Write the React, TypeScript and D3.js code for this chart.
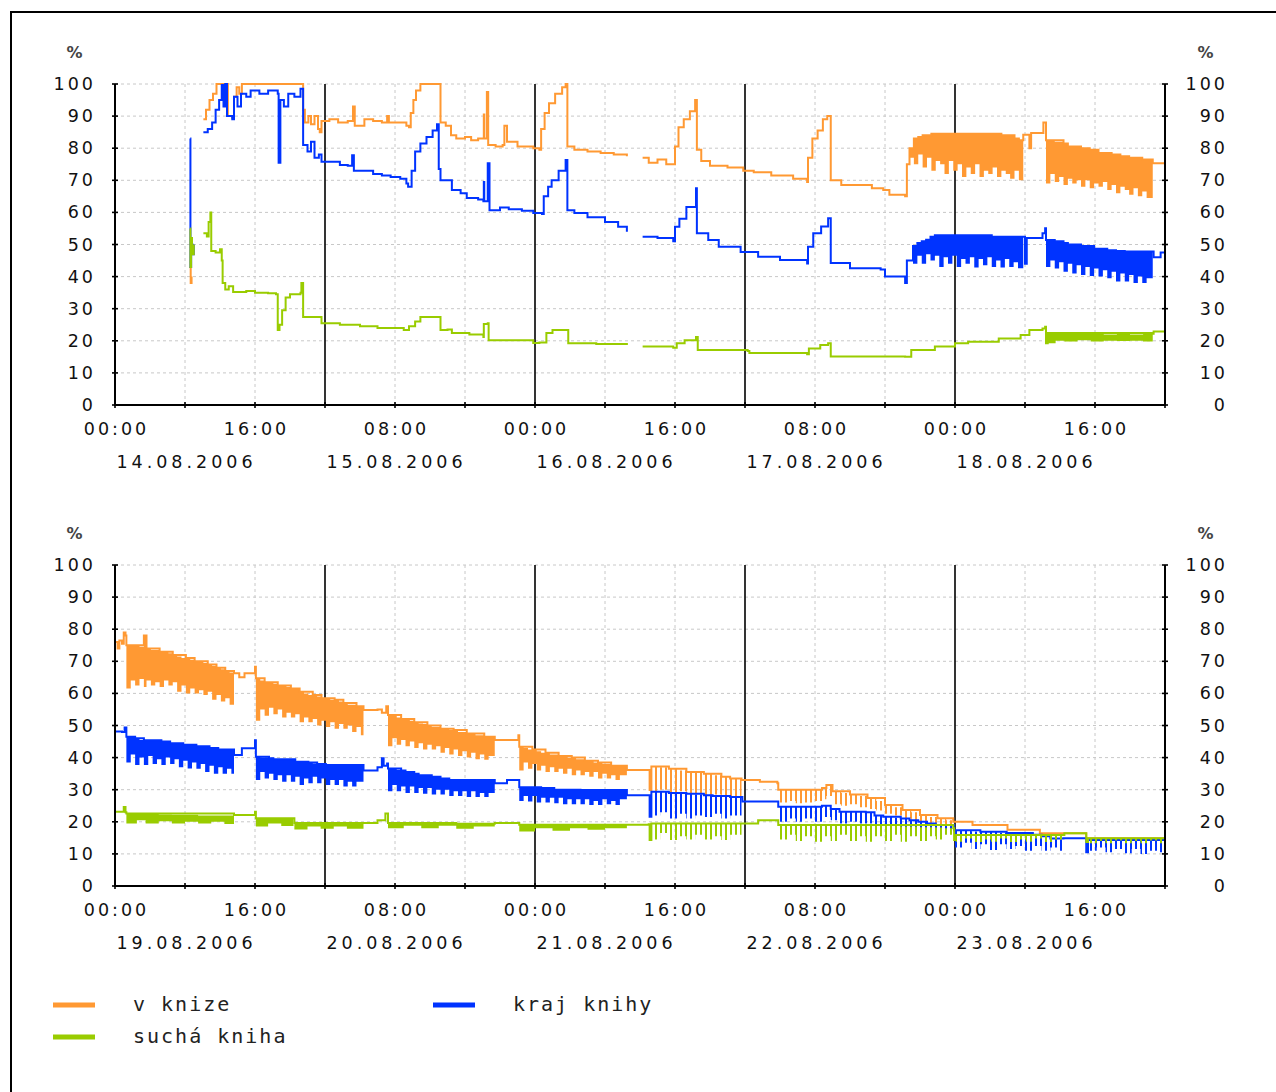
import React, { useEffect, useRef } from 'react';
import * as d3 from 'd3';

type Pt = [number, number | null];
type Band = [number, number, number];

// x values are hours from 00:00 of the first day of each panel (5 days = 120 h)
const dates1 = ['14.08.2006', '15.08.2006', '16.08.2006', '17.08.2006', '18.08.2006'];
const dates2 = ['19.08.2006', '20.08.2006', '21.08.2006', '22.08.2006', '23.08.2006'];
const timeLabels = ['00:00', '16:00', '08:00', '00:00', '16:00', '08:00', '00:00', '16:00'];
const yTicks = [0, 10, 20, 30, 40, 50, 60, 70, 80, 90, 100];
const seriesNames = ['v knize', 'kraj knihy', 'suchá kniha'];
const seriesColors = ['#ff9933', '#0033ff', '#99cc00'];

// ---- 14.08 - 18.08 ----
const top1Orange: Pt[] = [
  [8.6, 43], [8.65, 38], [8.75, 40], [8.8, null],
  [10.1, 89], [10.4, 92], [10.8, 95], [11.2, 97], [11.6, 100], [12.8, 100], [12.9, 90], [13.4, 89.5], [13.6, 96], [13.9, 99], [14.2, 97], [14.5, 100],
  [21.4, 100], [21.5, 92], [21.7, 88], [22.1, 90], [22.4, 87.5], [22.8, 90], [23.2, 86], [23.4, 85], [23.6, 88.5], [24.5, 89], [25.5, 88], [26.6, 88.5],
  [27.2, 93], [27.4, 87], [28.5, 89], [29.5, 88.5], [30.5, 88], [31.1, 90], [31.3, 88], [32.5, 88], [33.3, 87], [33.6, 86.5], [33.8, 91], [34.1, 95],
  [34.4, 98], [34.9, 100], [37.1, 100], [37.2, 88], [37.8, 87], [38.4, 84], [39, 83], [40, 83.5], [40.7, 82.5], [41.5, 83], [42.1, 83], [42.15, 90.5],
  [42.2, 83], [42.5, 97.5], [42.65, 81], [43.5, 80.5], [44.3, 81], [44.5, 87], [44.8, 82], [46, 80.5], [47.3, 80.5], [47.8, 80], [48.5, 79.5],
  [48.7, 86], [49.1, 91], [49.6, 94], [50.3, 97], [51.1, 99], [51.5, 100], [51.7, 80.5], [52.5, 79.5], [54, 79], [55.5, 78.5], [57, 78], [58.5, 77.5], [58.6, null],
  [60.3, 77], [61, 75.5], [62, 76.5], [63, 75], [63.8, 75], [64, 80.5], [64.4, 86.5], [65, 89], [65.7, 91.5], [66.3, 95], [66.5, 79.5], [67, 76],
  [68, 74.5], [70, 74], [71.8, 73], [73, 72.5], [75, 71.5], [77.5, 70.5], [79.1, 69.5], [79.2, 77], [79.7, 83], [80.3, 85.5], [80.9, 89], [81.4, 90],
  [81.8, 70], [83, 68.5], [85, 68.5], [86.5, 67.5], [87.8, 67], [88.5, 65.5], [90.3, 65], [90.5, 75], [90.8, 80], [91.3, 83], [91.8, 83.5], [92.3, 84],
  [93.3, 84.5], [101.3, 84], [102.8, 83], [103.3, 82.5], [103.8, 84.2], [104.5, 80], [104.7, 84.7], [106, 84.7], [106.1, 88], [106.4, 82.5],
  [108.4, 81.5], [108.9, 80.5], [110.4, 80], [111.4, 79.5], [112.4, 78.5], [113.9, 78], [114.9, 77.5], [115.9, 77], [117.4, 76.5], [118.6, 75.3], [120, 75.3],
];
const top1Blue: Pt[] = [
  [8.6, 83], [8.62, 43], [8.7, 50], [8.85, 47], [9, 50], [9.05, null],
  [10.1, 85], [10.6, 86], [11.1, 88], [11.5, 92], [11.9, 95], [12.2, 99.7], [12.4, 93], [12.6, 100], [12.8, 90], [13.4, 89], [13.6, 96], [14, 93],
  [14.4, 97], [15, 96], [15.5, 98], [16.5, 97], [17.5, 98], [18.6, 97], [18.7, 75.5], [18.9, 95], [19.3, 93], [19.8, 97], [20.5, 96], [21.2, 98.5],
  [21.5, 81], [22, 79], [22.4, 82], [22.8, 77], [23.3, 78], [23.6, 75.8], [25.7, 74.8], [26.6, 74.5], [27.1, 77.8], [27.3, 73], [28.5, 73], [29.5, 72],
  [30.5, 71.5], [31.5, 71], [32.6, 70.5], [33.3, 69], [33.5, 68], [33.9, 73], [34.3, 79], [34.9, 81.5], [35.6, 83.5], [36.3, 85.5], [36.8, 87.5],
  [37, 73.5], [37.2, 70], [38.2, 70], [38.5, 67], [39.5, 66], [40.2, 64.5], [41.5, 64], [42.1, 63.5], [42.15, 69.5], [42.2, 63.5], [42.6, 75.3],
  [42.8, 60.7], [44, 61.5], [45, 61], [46.5, 60.5], [47.8, 59.8], [48.8, 59.5], [49, 65], [49.5, 68], [49.9, 70], [50.7, 73], [51.5, 76.3], [51.7, 60.7],
  [52.5, 59.8], [54, 58.5], [56, 57], [57.5, 55.5], [58.5, 54], [58.6, null],
  [60.3, 52.4], [62, 52], [63.8, 51], [64, 55.5], [64.5, 58], [65.3, 61.7], [66.4, 67.5], [66.5, 53.5], [67.8, 51.4], [69, 49.3], [71.5, 47.7],
  [73.5, 46.2], [76, 45.2], [79.1, 44.1], [79.2, 49.3], [79.8, 53.5], [80.7, 55.6], [81.5, 58.2], [81.8, 44.2], [84, 42.6], [87.5, 42.2], [88, 40],
  [90.3, 38], [90.5, 45], [91.2, 49.5], [91.7, 50.5], [92.2, 51], [92.7, 51.5], [93.2, 52.4], [93.7, 52.9], [100.2, 52.4], [103.8, 52.4], [104, 44],
  [104.2, 52], [106, 53.5], [106.3, 55.1], [106.4, 51.4], [107.4, 51], [108.4, 50.5], [108.9, 50], [110.4, 49.5], [111.9, 48.7], [113.4, 48.2],
  [114.4, 48], [115.4, 47.8], [118.6, 47.8], [118.7, 46], [119.5, 47.5], [120, 49.3],
];
const top1Green: Pt[] = [
  [8.6, 55], [8.62, 43], [8.7, 52], [8.8, 47], [9, 50], [9.05, null],
  [10.1, 53.5], [10.5, 52.5], [10.7, 57], [10.9, 60], [11, 48], [11.5, 47.5], [12, 48.5], [12.2, 45], [12.3, 38], [12.6, 36], [13, 37], [13.5, 35.2],
  [15, 35.5], [16, 35], [17.5, 34.8], [18.4, 34.5], [18.6, 23.4], [18.8, 25], [19.1, 29.5], [19.5, 33.5], [20, 34.5], [21.2, 35], [21.3, 38],
  [21.5, 27.4], [23.6, 25.5], [25.7, 25], [28, 24.5], [30, 24], [33, 23.4], [33.6, 24.5], [34.3, 26], [34.9, 27.4], [37.1, 27.4], [37.2, 23.4],
  [38, 23.5], [38.5, 22.4], [40.5, 22], [42.1, 21.2], [42.15, 25.2], [42.6, 25.5], [42.7, 20.2], [45, 20.2], [47.8, 19.3], [48.5, 19.5], [49.3, 22.4],
  [50, 23.4], [51.7, 23.4], [51.8, 19.2], [55, 19], [58.5, 18.7], [58.6, null],
  [60.3, 18.2], [63.8, 17.8], [64.2, 19.2], [65.1, 20.2], [66.4, 21.2], [66.6, 17.1], [72.3, 16.8], [72.5, 16.2], [79.1, 15.8], [79.3, 17.6],
  [80.6, 18.7], [81.5, 19.2], [81.8, 15.1], [90.3, 15], [91, 17.1], [93.7, 18.2], [96, 19.2], [97.5, 19.7], [101, 20.7], [103.5, 21.8], [104.5, 23.4],
  [106, 23.8], [106.3, 24.4], [106.4, 19.2], [106.6, 22.4], [118.6, 22.2], [118.7, 22.9], [120, 22.9],
];
const top1OrangeBands: Band[][] = [
  [[90.8, 80, 77], [91.3, 83, 75], [91.8, 83.5, 78], [92.3, 84, 74], [92.8, 84, 77], [93.3, 84.5, 73], [93.8, 84.5, 76], [94.3, 84.5, 75],
    [94.8, 84.5, 72], [95.3, 84.5, 76], [95.8, 84.5, 73], [96.3, 84.5, 75], [96.8, 84.5, 71], [97.3, 84.5, 74], [97.8, 84.5, 72], [98.3, 84.5, 75],
    [98.8, 84.5, 71], [99.3, 84.5, 73], [99.8, 84.5, 72], [100.3, 84.5, 74], [100.8, 84.5, 71], [101.3, 84, 73], [101.8, 84, 72], [102.3, 84, 70.5],
    [102.8, 83, 73], [103.3, 82.5, 70], [103.8, 82.5, 82.5]],
  [[106.4, 82.5, 69], [106.9, 82.5, 72], [107.4, 82, 69.5], [107.9, 82, 71], [108.4, 81.5, 68.5], [108.9, 80.5, 70.5], [109.4, 80.5, 69],
    [109.9, 80.5, 70], [110.4, 80, 68], [110.9, 80, 70], [111.4, 79.5, 67.5], [111.9, 79.5, 69], [112.4, 78.5, 68], [112.9, 78.5, 69.5],
    [113.4, 78.5, 67], [113.9, 78, 68.5], [114.4, 78, 66], [114.9, 77.5, 68], [115.4, 77.5, 67], [115.9, 77, 65.5], [116.4, 77, 67.5],
    [116.9, 77, 65], [117.4, 76.5, 66.5], [117.9, 76.5, 64.5], [118.6, 76.5, 76.5]],
];
const top1BlueBands: Band[][] = [
  [[91.2, 49.5, 44], [91.7, 50.5, 46.5], [92.2, 51, 44], [92.7, 51.5, 47], [93.2, 52.4, 45], [93.7, 52.9, 46.5], [94.2, 52.9, 43], [94.7, 52.9, 46],
    [95.2, 52.9, 44], [95.7, 52.9, 46.5], [96.2, 52.9, 43], [96.7, 52.9, 45.5], [97.2, 52.9, 44], [97.7, 52.9, 46], [98.2, 52.9, 42.8],
    [98.7, 52.9, 45.5], [99.2, 52.9, 43.5], [99.7, 52.9, 46], [100.2, 52.4, 43], [100.7, 52.4, 45], [101.2, 52.4, 42.8], [101.7, 52.4, 45.5],
    [102.2, 52.4, 43], [102.7, 52.4, 44.5], [103.2, 52.4, 42.6], [103.8, 52.4, 52.4]],
  [[106.4, 51.4, 43], [106.9, 51.4, 45], [107.4, 51, 42.5], [107.9, 51, 44.5], [108.4, 50.5, 41.5], [108.9, 50, 44], [109.4, 50, 41],
    [109.9, 50, 43.5], [110.4, 49.5, 40.5], [110.9, 49.5, 43], [111.4, 49.5, 40.2], [111.9, 48.7, 42.5], [112.4, 48.7, 40], [112.9, 48.7, 42],
    [113.4, 48.2, 39.5], [113.9, 48.2, 41.5], [114.4, 48, 38.5], [114.9, 48, 41], [115.4, 47.8, 38.5], [115.9, 47.8, 40.5], [116.4, 47.8, 38],
    [116.9, 47.8, 40], [117.4, 47.8, 38], [117.9, 47.8, 39.5], [118.6, 47.8, 47.8]],
];
const top1GreenBands: Band[][] = [
  [[106.4, 22.5, 19.2], [107.5, 22.3, 20], [108.5, 22.4, 19.8], [110, 22.2, 20.2], [111.5, 22.4, 19.8], [113, 22, 20], [114.5, 22.2, 19.9],
    [116, 22, 20], [117.5, 22.2, 19.8], [118.6, 22, 22]],
];

// ---- 19.08 - 23.08 ----
const bot2Orange: Pt[] = [
  [0, 76], [0.3, 74], [0.5, 76.5], [0.8, 75.5], [1, 79], [1.2, 78], [1.3, 75], [3.3, 78], [3.6, 74], [5.1, 73], [6.6, 72], [8.1, 71], [9.1, 70],
  [10.6, 69], [11.6, 68], [12.6, 67], [13.6, 66.3], [14.2, 65], [14.8, 66.3], [15.9, 66.3], [16, 68.3], [16.1, 64.7], [17.1, 63.5], [18.6, 62.5],
  [20.1, 61.5], [21.1, 60.5], [22.6, 59.5], [23.6, 58.5], [25.1, 58], [26.1, 57], [27.6, 56], [28.4, 54.8], [30, 55], [30.5, 54], [31, 56],
  [31.2, 53.3], [32.7, 52], [34.2, 51], [35.7, 50], [37.2, 49], [38.7, 48.6], [40.2, 47.5], [42.2, 46.5], [43.4, 45.5], [46, 45.5], [46.1, 47],
  [46.2, 43.4], [47.7, 42.5], [49.2, 41.5], [50.7, 40.5], [52.2, 40], [53.7, 39], [55.2, 38.5], [56.7, 37.5], [58.5, 36.1], [61, 36.1], [61.1, 29.9],
  [61.3, 37.2], [63.3, 36.5], [65.3, 35.5], [67.3, 35], [69.3, 34], [70.3, 33.5], [71.6, 33], [73.7, 32.5], [75.7, 32], [75.8, 30], [80.8, 30.5],
  [81.3, 31.5], [82, 29.5], [84, 28.5], [86, 27.4], [88, 25.2], [90, 23.7], [92, 22.1], [94, 21.1], [95.8, 20], [98, 19], [102, 17.5], [105.7, 16.4],
  [110.9, 16.4], [111, 14.9], [120, 14.9],
];
const bot2Blue: Pt[] = [
  [0, 48.1], [0.8, 48], [1.1, 49.4], [1.3, 46.5], [2.3, 46], [3.3, 45.4], [5.3, 45], [6.3, 44.5], [7.8, 44], [9.3, 43.5], [10.8, 43], [11.8, 42.5],
  [13.6, 40.8], [14.5, 42.9], [15.9, 42.9], [16, 45.4], [16.1, 40.3], [17.6, 39.8], [18.1, 39.5], [20.6, 38.7], [22.1, 38.5], [23.1, 38],
  [24.1, 37.7], [28.4, 36], [30, 37], [30.5, 39.8], [30.7, 37.5], [31.1, 38.2], [31.2, 36.6], [32.7, 36], [33.2, 35.5], [34.2, 35], [34.7, 34.5],
  [36.2, 34], [37.2, 33.5], [38.2, 33], [43.4, 32], [44.8, 33], [46.1, 33], [46.2, 30.8], [48.7, 30.5], [50.2, 30], [53.2, 29.9], [58.5, 28.3],
  [61, 28.3], [61.1, 21.6], [61.3, 29.4], [63.3, 29], [65.3, 28.7], [67.3, 28.3], [68.3, 28], [70.3, 27.7], [71.7, 26.3], [75.7, 26.3], [75.8, 24.7],
  [80.8, 25], [81.8, 24], [82.8, 23.1], [85.8, 23], [86.8, 22], [87.8, 21.6], [89.8, 21], [90.8, 20.5], [91.8, 20], [92.8, 19.5], [93.8, 19],
  [95.8, 19], [95.9, 17.4], [98.9, 16.9], [101.9, 16.5], [104.9, 16], [105.9, 15.5], [106.9, 14.8], [108.4, 14.9], [110.9, 14.9], [111, 10.5],
  [111.2, 14.3], [120, 14.3],
];
const bot2Green: Pt[] = [
  [0, 23.1], [1, 24.6], [1.2, 23], [1.3, 22.6], [13.6, 22.1], [15.9, 22.1], [16, 23.1], [16.1, 21.1], [20.4, 21.1], [20.5, 19.6], [28.4, 19.6],
  [30, 20.5], [30.9, 22.6], [31.2, 19.6], [39, 19.4], [43.4, 19.6], [46.1, 19.6], [46.2, 19.1], [58.5, 19.1], [61, 19.2], [61.1, 14.3], [61.3, 19.5],
  [71.6, 19.5], [73.5, 20.5], [75.7, 20.5], [75.8, 19], [95.8, 18], [95.9, 14.3], [96.1, 15.9], [108.4, 15.9], [108.5, 16.4], [110.9, 16.4],
  [111, 13.7], [111.2, 14.9], [120, 14.9],
];
const bot2OrangeBands: Band[][] = [
  [[1.3, 75, 61.5], [1.8, 75, 64], [2.3, 75, 62.5], [2.8, 74.5, 64.5], [3.3, 78, 62], [3.6, 74, 64], [4.1, 73.5, 62.5], [4.6, 73.5, 63.5],
    [5.1, 73, 62], [5.6, 73, 64], [6.1, 72.5, 62.5], [6.6, 72, 63.5], [7.1, 71.5, 60.5], [7.6, 71, 62.5], [8.1, 71, 60], [8.6, 70.5, 61.5],
    [9.1, 70, 60], [9.6, 70, 61], [10.1, 69.5, 59.5], [10.6, 69, 60.5], [11.1, 68.5, 58], [11.6, 68, 59.5], [12.1, 67.5, 57.5], [12.6, 67, 58.5],
    [13.1, 66.5, 56.5], [13.6, 66.3, 66.3]],
  [[16.1, 64.7, 51.5], [16.6, 64, 55], [17.1, 63.5, 53], [17.6, 63.5, 55.5], [18.1, 63, 53.5], [18.6, 62.5, 55], [19.1, 62.5, 52.5],
    [19.6, 62, 54], [20.1, 61.5, 52.5], [20.6, 61.5, 53.5], [21.1, 60.5, 51], [21.6, 60, 52.5], [22.1, 59.5, 51], [22.6, 59.5, 52], [23.1, 59, 50],
    [23.6, 58.5, 51.5], [24.1, 58.5, 49.5], [24.6, 58, 51], [25.1, 58, 49], [25.6, 57.5, 50.5], [26.1, 57, 49], [26.6, 56.5, 50], [27.1, 56.5, 48],
    [27.6, 56, 49.5], [28.1, 56, 47], [28.4, 56, 56]],
  [[31.2, 53.3, 43.5], [31.7, 53, 46], [32.2, 52.5, 44], [32.7, 52, 45.5], [33.2, 52, 43.5], [33.7, 51.5, 45], [34.2, 51, 43], [34.7, 50.6, 44.5],
    [35.2, 50.5, 42.5], [35.7, 50, 44], [36.2, 49.5, 42.5], [36.7, 49.5, 43.5], [37.2, 49, 41.5], [37.7, 49, 43], [38.2, 48.6, 41], [38.7, 48.6, 42.5],
    [39.2, 48, 40.5], [39.7, 48, 42], [40.2, 47.5, 40], [40.7, 47.5, 41.5], [41.2, 47, 39.5], [41.7, 47, 41], [42.2, 46.5, 39.3], [42.7, 46.5, 40.5],
    [43.4, 46.5, 46.5]],
  [[46.2, 43.4, 36], [46.7, 43, 38.5], [47.2, 42.5, 36.5], [47.7, 42.5, 38], [48.2, 42, 36], [48.7, 41.5, 37.5], [49.2, 41.5, 35.5], [49.7, 41, 37],
    [50.2, 41, 35.5], [50.7, 40.5, 36.5], [51.2, 40.5, 35], [51.7, 40, 36.5], [52.2, 40, 34.5], [52.7, 39.5, 36], [53.2, 39.5, 34.5], [53.7, 39, 35.5],
    [54.2, 39, 34], [54.7, 38.5, 35.5], [55.2, 38.5, 33.5], [55.7, 38, 35], [56.2, 38, 33.5], [56.7, 37.5, 34.5], [57.2, 37.5, 33], [57.7, 37.5, 34.5],
    [58.5, 37.5, 37.5]],
];
const bot2OrangeSpikes: Band[][] = [
  [[61.3, 37.2, 29.5], [62.3, 37, 30], [63.3, 36.5, 28.7], [64.3, 36, 29.5], [65.3, 35.5, 28.5], [66.3, 35.5, 29], [67.3, 35, 28], [68.3, 34.5, 28.5],
    [69.3, 34, 27.5], [70.3, 33.5, 26.7], [71.6, 33, 33]],
  [[75.8, 30, 26], [76.8, 30, 26.5], [77.8, 30, 25.8], [78.8, 29.9, 26], [79.8, 29.9, 26.5], [80.8, 30.5, 27], [81.3, 31.5, 28], [82, 29.5, 25.5],
    [83, 29, 25], [84, 28.5, 25.5], [85, 28, 24.5], [86, 27.4, 24], [87, 26.5, 23.5], [88, 25.2, 22.5], [89, 24.5, 22], [90, 23.7, 21], [91, 23, 20.5],
    [92, 22.1, 19.5], [93, 21.5, 19], [94, 21.1, 18.5], [95, 20.5, 18.5], [95.8, 20, 20]],
];
const bot2BlueBands: Band[][] = [
  [[1.3, 46.5, 38.5], [1.8, 46.5, 41], [2.3, 46, 37.7], [2.8, 45.5, 40], [3.3, 45.4, 37.7], [3.8, 45.4, 40.5], [4.3, 45.4, 38], [4.8, 45.4, 39.5],
    [5.3, 45, 37.7], [5.8, 45, 40], [6.3, 44.5, 38], [6.8, 44.5, 39.5], [7.3, 44.5, 37], [7.8, 44, 39], [8.3, 44, 36.6], [8.8, 44, 38.5],
    [9.3, 43.5, 36.5], [9.8, 43.4, 38], [10.3, 43.4, 35.5], [10.8, 43, 37.5], [11.3, 43, 35], [11.8, 42.5, 37], [12.3, 42.5, 35], [12.8, 42.4, 36.5],
    [13.3, 42.4, 35], [13.6, 42.4, 42.4]],
  [[16.1, 40.3, 33], [16.6, 40, 35.5], [17.1, 40, 33.5], [17.6, 39.8, 35], [18.1, 39.5, 33], [18.6, 39.5, 34.5], [19.1, 39.5, 32.5],
    [19.6, 39.5, 34.5], [20.1, 39.5, 32.5], [20.6, 38.7, 34], [21.1, 38.7, 31.5], [21.6, 38.7, 33.5], [22.1, 38.5, 32], [22.6, 38.2, 34],
    [23.1, 38, 32], [23.6, 38, 33.5], [24.1, 37.7, 31.5], [24.6, 37.7, 33], [25.1, 37.7, 31.5], [25.6, 37.7, 33], [26.1, 37.7, 31], [26.6, 37.7, 32.5],
    [27.1, 37.7, 31], [27.6, 37.7, 32.5], [28.4, 37.7, 37.7]],
  [[31.2, 36.6, 29.5], [31.7, 36.5, 31.5], [32.2, 36.2, 29.5], [32.7, 36, 31], [33.2, 35.5, 29], [33.7, 35.2, 31], [34.2, 35, 29], [34.7, 34.5, 30.5],
    [35.2, 34.5, 28.7], [35.7, 34.5, 30.5], [36.2, 34, 28.5], [36.7, 34, 30], [37.2, 33.5, 28.5], [37.7, 33.5, 30], [38.2, 33, 28], [38.7, 33, 29.5],
    [39.2, 33, 28], [39.7, 33, 29.5], [40.2, 33, 27.7], [40.7, 33, 29.5], [41.2, 33, 27.7], [41.7, 33, 29], [42.2, 33, 27.7], [42.7, 33, 29],
    [43.4, 33, 33]],
  [[46.2, 30.8, 26.5], [46.7, 30.8, 28], [47.2, 30.5, 26.3], [47.7, 30.5, 28], [48.2, 30.5, 26], [48.7, 30.5, 27.5], [49.2, 30.2, 26],
    [49.7, 30.2, 27.5], [50.2, 30, 25.8], [50.7, 30, 27.5], [51.2, 30, 25.5], [51.7, 30, 27], [52.2, 30, 25.5], [52.7, 30, 27], [53.2, 29.9, 25.5],
    [53.7, 29.9, 27], [54.2, 29.9, 25.2], [54.7, 29.9, 26.5], [55.2, 29.9, 25.2], [55.7, 29.9, 27], [56.2, 29.9, 25.5], [56.7, 29.9, 26.5],
    [57.2, 29.9, 25.2], [57.7, 29.9, 27], [58.5, 29.9, 29.9]],
];
const bot2BlueSpikes: Band[][] = [
  [[61.3, 29.4, 22], [62.3, 29.3, 23], [63.3, 29, 21], [64.3, 29, 22.5], [65.3, 28.7, 21], [66.3, 28.5, 22], [67.3, 28.3, 21.5], [68.3, 28, 22.5],
    [69.3, 28, 21], [70.3, 27.7, 22], [71.6, 27.7, 27.7]],
  [[75.8, 24.7, 20], [76.8, 24.7, 21], [77.8, 24.7, 20], [78.8, 24.7, 21], [79.8, 24.7, 20], [80.8, 25, 21.5], [81.8, 24, 20.5], [82.8, 23.1, 19.5],
    [83.8, 23.1, 20], [84.8, 23.1, 19.5], [85.8, 23, 19.5], [86.8, 22, 18.5], [87.8, 21.6, 18.5], [88.8, 21.3, 17.5], [89.8, 21, 18], [90.8, 20.5, 17],
    [91.8, 20, 14], [92.8, 19.5, 17], [93.8, 19, 16.5], [94.8, 19, 16.5], [95.8, 19, 19]],
  [[95.9, 17.4, 12], [96.9, 17.2, 13.5], [97.9, 17, 11.5], [98.9, 16.9, 13], [99.9, 16.8, 11.2], [100.9, 16.6, 13], [101.9, 16.5, 11.5],
    [102.9, 16.4, 12.5], [103.9, 16.2, 11], [104.9, 16, 12.5], [105.9, 15.5, 11], [106.9, 14.8, 12], [107.9, 14.5, 11], [108.4, 14.9, 14.9]],
  [[111.2, 14.3, 11], [112.2, 14.3, 12], [113.2, 14.3, 10.5], [114.2, 14.3, 11.5], [115.2, 14.3, 10.2], [116.2, 14.3, 11.5], [117.2, 14.3, 10],
    [118.2, 14.3, 11], [119.2, 14.3, 10.5], [120, 14.3, 14.3]],
];
const bot2GreenBands: Band[][] = [
  [[1.3, 22.6, 19.5], [2.5, 22.6, 20.5], [3.5, 22.5, 19.5], [5, 22.3, 20.2], [6.5, 22.2, 19.5], [8, 22.2, 20], [9.5, 22, 19.5], [11, 22, 20],
    [12.5, 22, 19.3], [13.6, 22.1, 22.1]],
  [[16.1, 21.1, 18.5], [17.5, 21.1, 19.5], [19, 21, 18.7], [20.4, 21, 21]],
  [[20.5, 19.6, 17.6], [22, 19.6, 18.5], [23.5, 19.6, 17.8], [25, 19.6, 18.5], [26.5, 19.6, 17.8], [28.4, 19.6, 19.6]],
  [[31.2, 19.6, 18], [33, 19.6, 18.8], [35, 19.6, 18], [37, 19.5, 18.8], [39, 19.4, 17.8], [41, 19.5, 18.5], [43.4, 19.6, 19.6]],
  [[46.2, 19.1, 17], [48, 19.2, 18], [50, 19.1, 17.2], [52, 19.1, 18], [54, 19, 17.5], [56, 19, 18], [58.5, 19.1, 19.1]],
];
const bot2GreenSpikes: Band[][] = [
  [[61.3, 19.5, 14.5], [62.3, 19.5, 16.5], [63.3, 19.5, 14.3], [64.3, 19.5, 15.5], [65.3, 19.5, 14.5], [66.3, 19.5, 16], [67.3, 19.5, 14.5],
    [68.3, 19.5, 15.5], [69.3, 19.5, 14.3], [70.3, 19.5, 16], [71.6, 19.5, 19.5]],
  [[75.8, 19, 14.5], [76.8, 19, 16], [77.8, 19, 14], [78.8, 19, 15.5], [79.8, 19, 13.8], [80.8, 19, 15.5], [81.8, 19, 14], [82.8, 19, 16],
    [83.8, 19, 14], [84.8, 19, 15.5], [85.8, 19, 13.8], [86.8, 18.8, 15.5], [87.8, 18.8, 14], [88.8, 18.7, 16], [89.8, 18.5, 13.8], [90.8, 18.5, 15.5],
    [91.8, 18.3, 14], [92.8, 18.3, 15.5], [93.8, 18.2, 14.5], [94.8, 18, 16], [95.8, 18, 18]],
  [[96.1, 15.9, 13.8], [97.1, 15.9, 14.8], [98.1, 15.9, 13.7], [99.1, 15.9, 14.5], [100.1, 15.9, 13.8], [101.1, 15.9, 14.8], [102.1, 15.9, 13.7],
    [103.1, 15.9, 14.5], [104.1, 15.9, 13.8], [105.1, 15.9, 14.8], [106.1, 15.9, 13.7], [107.1, 15.9, 14.5], [108.4, 15.9, 15.9]],
  [[111.2, 14.9, 13.3], [112.2, 14.9, 14], [113.2, 14.9, 13.3], [114.2, 14.9, 14.2], [115.2, 14.9, 13.3], [116.2, 14.9, 14], [117.2, 14.9, 13.3],
    [118.2, 14.9, 14.2], [119.2, 14.9, 13.3], [120, 14.9, 14.9]],
];

const panels = [
  {
    top: 84,
    dates: dates1,
    lines: [top1Orange, top1Blue, top1Green],
    bands: [top1OrangeBands, top1BlueBands, top1GreenBands],
    spikes: [[], [], []] as Band[][][],
  },
  {
    top: 565,
    dates: dates2,
    lines: [bot2Orange, bot2Blue, bot2Green],
    bands: [bot2OrangeBands, bot2BlueBands, bot2GreenBands],
    spikes: [bot2OrangeSpikes, bot2BlueSpikes, bot2GreenSpikes],
  },
];

const LEFT = 115;
const RIGHT = 1165;
const PLOT_H = 321;
const FONT = '"DejaVu Sans", Verdana, sans-serif';
const LS = 3; // letter spacing of tick labels

function drawPanel(svg: any, p: any) {
  const x = d3.scaleLinear().domain([0, 120]).range([LEFT, RIGHT]);
  const y = d3.scaleLinear().domain([0, 100]).range([p.top + PLOT_H, p.top]);
  const bottom = p.top + PLOT_H;
  const g = svg.append('g').attr('class', 'panel');

  // grid
  g.selectAll('.hgrid')
    .data(yTicks.filter((v) => v > 0))
    .join('line')
    .attr('x1', LEFT).attr('x2', RIGHT)
    .attr('y1', (d: number) => y(d)).attr('y2', (d: number) => y(d))
    .attr('stroke', '#c8c8c8').attr('stroke-dasharray', '3,3');

  const tickHours = d3.range(0, 121, 8);
  g.selectAll('.vgrid')
    .data(tickHours.filter((h) => h > 0 && h < 120 && h % 24 !== 0))
    .join('line')
    .attr('x1', (d: number) => x(d)).attr('x2', (d: number) => x(d))
    .attr('y1', p.top).attr('y2', bottom)
    .attr('stroke', '#c8c8c8').attr('stroke-dasharray', '3,3');

  g.selectAll('.midnight')
    .data([24, 48, 72, 96])
    .join('line')
    .attr('x1', (d: number) => x(d)).attr('x2', (d: number) => x(d))
    .attr('y1', p.top).attr('y2', bottom)
    .attr('stroke', '#000').attr('stroke-width', 1.6);

  // data
  const line = d3.line<Pt>()
    .defined((d) => d[1] != null)
    .x((d) => x(d[0]))
    .y((d) => y(d[1] as number))
    .curve(d3.curveStepAfter);
  const area = d3.area<Band>()
    .x((d) => x(d[0]))
    .y0((d) => y(d[2]))
    .y1((d) => y(d[1]))
    .curve(d3.curveStepAfter);

  p.lines.forEach((pts: Pt[], i: number) => {
    const color = seriesColors[i];
    p.bands[i].forEach((b: Band[]) => {
      g.append('path').attr('d', area(b)).attr('fill', color);
    });
    p.spikes[i].forEach((b: Band[]) => {
      g.append('path').attr('d', area(b)).attr('fill', `url(#stripe${i})`);
    });
    g.append('path')
      .attr('d', line(pts))
      .attr('fill', 'none')
      .attr('stroke', color)
      .attr('stroke-width', 2);
  });

  // axes
  const axis = g.append('g').attr('stroke', '#000');
  axis.append('line').attr('x1', LEFT).attr('x2', LEFT).attr('y1', p.top).attr('y2', bottom).attr('stroke-width', 2);
  axis.append('line').attr('x1', RIGHT).attr('x2', RIGHT).attr('y1', p.top).attr('y2', bottom).attr('stroke-width', 2);
  axis.append('line').attr('x1', LEFT - 1).attr('x2', RIGHT + 1).attr('y1', bottom).attr('y2', bottom).attr('stroke-width', 2);
  [LEFT, RIGHT].forEach((ax) => {
    axis.selectAll(null)
      .data(yTicks)
      .join('line')
      .attr('x1', ax - 3).attr('x2', ax + 3)
      .attr('y1', (d: number) => y(d)).attr('y2', (d: number) => y(d))
      .attr('stroke-width', 1.6);
  });
  axis.selectAll(null)
    .data(tickHours)
    .join('line')
    .attr('x1', (d: number) => x(d)).attr('x2', (d: number) => x(d))
    .attr('y1', bottom - 3).attr('y2', bottom + 3)
    .attr('stroke-width', 1.6);

  // labels
  const txt = g.append('g')
    .attr('font-family', FONT).attr('font-size', 17.5)
    .attr('letter-spacing', LS).attr('fill', '#111');
  [96, RIGHT + 63].forEach((tx) => {
    txt.selectAll(null)
      .data(yTicks)
      .join('text')
      .attr('x', tx).attr('y', (d: number) => y(d) + 6)
      .attr('text-anchor', 'end')
      .text((d: number) => d);
  });
  [74.5, 1205.5].forEach((tx) => {
    txt.append('text').attr('x', tx).attr('y', p.top - 26).attr('text-anchor', 'middle')
      .attr('font-size', 16).attr('font-weight', 'bold').attr('fill', '#444')
      .attr('letter-spacing', 0).text('%');
  });
  txt.selectAll(null)
    .data(timeLabels)
    .join('text')
    .attr('x', (_: string, i: number) => x(i * 16) + LS / 2)
    .attr('y', p.top + 351)
    .attr('text-anchor', 'middle')
    .text((d: string) => d);
  txt.selectAll(null)
    .data(p.dates)
    .join('text')
    .attr('x', (_: string, i: number) => x(8 + i * 24) + LS / 2)
    .attr('y', p.top + 383.5)
    .attr('text-anchor', 'middle')
    .attr('letter-spacing', 4)
    .text((d: string) => d);
}

function App() {
  const svgRef = useRef<SVGSVGElement>(null);

  useEffect(() => {
    const svg = d3.select(svgRef.current);
    svg.selectAll('.panel').remove();
    panels.forEach((p) => drawPanel(svg, p));
  }, []);

  // legend: 2 columns, orange + green in the first, blue in the second
  const legendPos = [[53, 1005], [433, 1005], [53, 1037]];

  return (
    <svg
      ref={svgRef}
      width={1276}
      height={1092}
      style={{ position: 'absolute', left: 0, top: 0, background: '#fff' }}
    >
      <defs>
        {seriesColors.map((c, i) => (
          <pattern key={c} id={`stripe${i}`} patternUnits="userSpaceOnUse" width={5} height={10}>
            <rect x={0} y={0} width={2} height={10} fill={c} />
          </pattern>
        ))}
      </defs>
      <rect x={11} y={12} width={1300} height={1100} fill="none" stroke="#000" strokeWidth={2} />
      <g fontFamily='"DejaVu Sans Mono", monospace' fontSize={20} letterSpacing={2} fill="#222">
        {seriesNames.map((name, i) => (
          <g key={name}>
            <line
              x1={legendPos[i][0]}
              x2={legendPos[i][0] + 42}
              y1={legendPos[i][1]}
              y2={legendPos[i][1]}
              stroke={seriesColors[i]}
              strokeWidth={5}
            />
            <text x={legendPos[i][0] + 80} y={legendPos[i][1] + 6}>{name}</text>
          </g>
        ))}
      </g>
    </svg>
  );
}

export default App;
